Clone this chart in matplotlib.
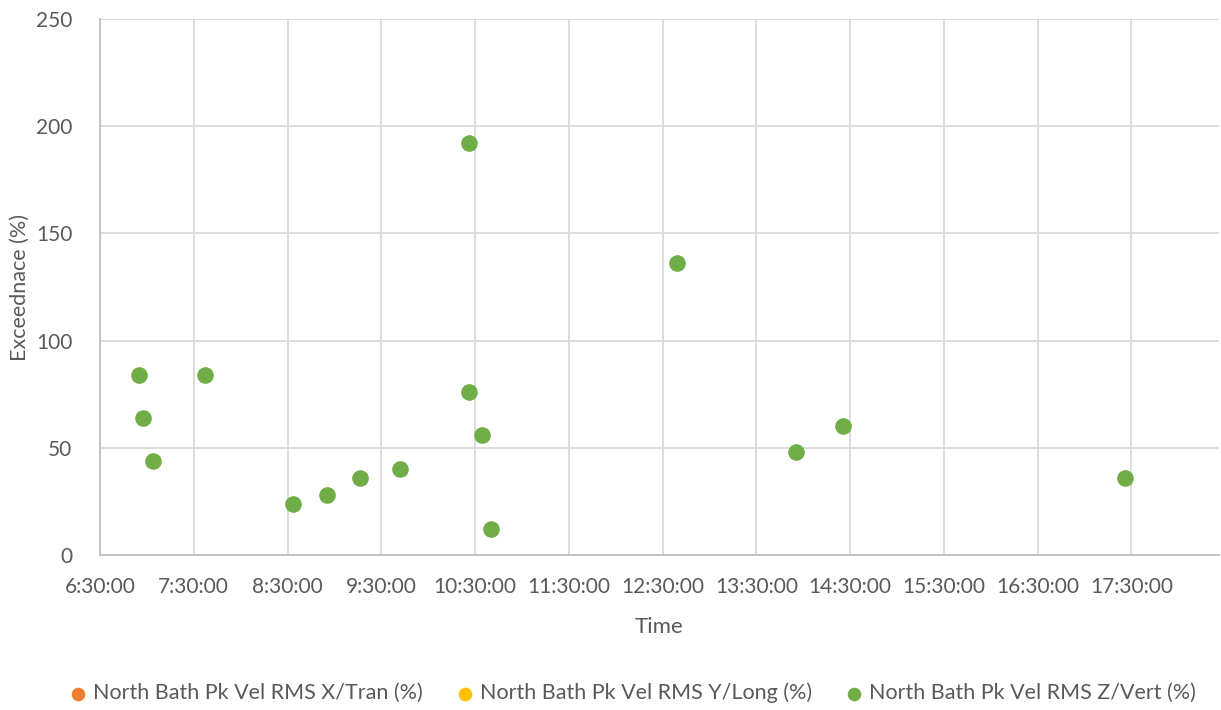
import matplotlib.pyplot as plt
from matplotlib.ticker import FixedLocator

plt.rcParams['font.family'] = ['Lato', 'DejaVu Sans']

# time of day in hours, exceedance in %
z_times = [6.92, 6.96, 7.07, 7.62, 8.56, 8.92, 9.27, 9.70, 10.44, 10.44, 10.57, 10.67, 12.65, 13.92, 14.42, 17.43]
z_values = [84, 64, 44, 84, 24, 28, 36, 40, 192, 76, 56, 12, 136, 48, 60, 36]
x_times = []
x_values = []
y_times = []
y_values = []

tick_hours = [6.5 + i for i in range(12)]
tick_labels = [f"{int(h)}:30:00" for h in tick_hours]
y_ticks = [0, 50, 100, 150, 200, 250]

text_color = "#595959"
grid_color = "#D9D9D9"

fig = plt.figure(figsize=(12.21, 7.10), dpi=100)
ax = fig.add_axes([0.0819, 0.2183, 0.9161, 0.7549])

ax.scatter(x_times, x_values, s=120, color="#ED7D31", label="North Bath Pk Vel RMS X/Tran (%)", zorder=3)
ax.scatter(y_times, y_values, s=120, color="#FFC000", label="North Bath Pk Vel RMS Y/Long (%)", zorder=3)
ax.scatter(z_times, z_values, s=120, color="#70AD47", label="North Bath Pk Vel RMS Z/Vert (%)", zorder=3)

ax.set_xlim(6.5, 18.43)
ax.set_ylim(0, 250)
ax.xaxis.set_major_locator(FixedLocator(tick_hours))
ax.set_xticklabels(tick_labels)
ax.set_yticks(y_ticks)
ax.grid(True, color=grid_color, linewidth=1.3)
ax.set_axisbelow(True)
ax.tick_params(length=0, labelsize=15, colors=text_color)
ax.tick_params(axis="x", pad=16)
ax.tick_params(axis="y", pad=20)

for side in ["top", "right"]:
    ax.spines[side].set_visible(False)
for side in ["left", "bottom"]:
    ax.spines[side].set_color("#BFBFBF")
    ax.spines[side].set_linewidth(1.3)

ax.set_xlabel("Time", fontsize=16, color=text_color, labelpad=14)
ax.set_ylabel("Exceednace (%)", fontsize=15.5, color=text_color)
ax.yaxis.set_label_coords(-0.063, 0.5)

fig.legend(loc="center", bbox_to_anchor=(0.513, 0.024), ncol=3, frameon=False,
           fontsize=15.5, labelcolor=text_color, handletextpad=-0.3, columnspacing=0.95,
           markerscale=0.8)

fig.savefig("out.png", dpi=100)
